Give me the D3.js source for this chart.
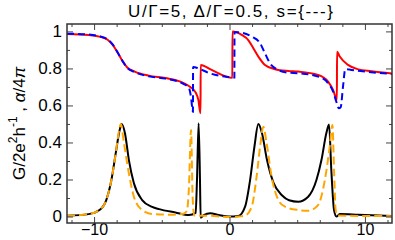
<!DOCTYPE html>
<html>
<head>
<meta charset="utf-8">
<script src="https://cdn.jsdelivr.net/npm/d3@7"></script>
<style>
  body { margin: 0; background: #fff; }
  svg { display: block; font-family: "Liberation Sans", Arial, sans-serif; }
</style>
</head>
<body>
<svg id="chart" width="395" height="240"></svg>
<script>
// alpha/4pi, red solid  [x, value]
const alphaRed = [
  [-12, 0.986], [-10.4, 0.981], [-9.6, 0.972], [-9.0, 0.955], [-8.6, 0.925], [-8.25, 0.885],
  [-7.9, 0.84], [-7.55, 0.805], [-7.0, 0.783], [-5.95, 0.761], [-4.73, 0.748], [-3.5, 0.725],
  [-2.9, 0.70], [-2.5, 0.67], [-2.3, 0.63], [-2.14, 0.558], [-2.13, 0.819], [-1.32, 0.792],
  [0.21, 0.749], [0.22, 0.999], [0.9, 0.981], [1.4, 0.952], [1.76, 0.909], [2.13, 0.864],
  [2.62, 0.819], [3.36, 0.796], [4.34, 0.786], [5.07, 0.783], [6.54, 0.765], [7.28, 0.729],
  [7.65, 0.684], [7.93, 0.63], [7.94, 0.89], [8.14, 0.864], [8.75, 0.819], [9.5, 0.795],
  [10.5, 0.785], [12, 0.773]
]
// alpha/4pi, blue dashed
const alphaBlue = [
  [-12, 0.988], [-10.4, 0.983], [-9.6, 0.974], [-9.0, 0.957], [-8.6, 0.927], [-8.25, 0.885],
  [-7.9, 0.84], [-7.55, 0.803], [-7.0, 0.78], [-5.95, 0.757], [-4.73, 0.745], [-3.5, 0.72],
  [-3.0, 0.695], [-2.85, 0.65], [-2.7, 0.566], [-2.69, 0.808], [-2.28, 0.80], [-1.54, 0.776],
  [-0.07, 0.754], [0.36, 0.751], [0.37, 0.996], [0.66, 0.995], [1.64, 0.972], [2.26, 0.936],
  [2.62, 0.882], [2.99, 0.828], [3.48, 0.796], [4.34, 0.777], [5.07, 0.774], [6.54, 0.756],
  [7.28, 0.72], [7.65, 0.675], [7.89, 0.62], [8.07, 0.585], [8.21, 0.59], [8.38, 0.70],
  [8.55, 0.796], [8.99, 0.792], [10, 0.783], [12, 0.77]
]
// G/2e^2h^-1, black solid
const condBlack = [
  [-12, 0.004], [-10.4, 0.013], [-9.6, 0.035], [-9.1, 0.089], [-8.72, 0.197], [-8.4, 0.342],
  [-8.11, 0.468], [-7.96, 0.5], [-7.72, 0.45], [-7.43, 0.305], [-7.06, 0.18], [-6.45, 0.089],
  [-5.71, 0.052], [-5.2, 0.04], [-4.0, 0.022], [-3.0, 0.008], [-2.5, 0.02], [-2.4, 0.2],
  [-2.28, 0.504], [-2.18, 0.2], [-2.13, -0.006], [-1.9, 0.008], [-1.42, 0.017], [-0.8, 0.008],
  [-0.07, 0.0], [0.66, 0.003], [1.15, 0.053], [1.52, 0.197], [1.84, 0.377], [2.13, 0.5],
  [2.4, 0.45], [2.77, 0.305], [3.26, 0.18], [3.87, 0.115], [4.4, 0.088], [5.07, 0.08],
  [5.81, 0.107], [6.42, 0.197], [6.79, 0.305], [7.15, 0.45], [7.35, 0.497], [7.52, 0.25],
  [7.72, 0.035], [7.9, 0.0], [8.14, 0.013], [9.5, 0.01], [12, 0.003]
]
// G/2e^2h^-1, orange dashed
const condOrange = [
  [-12, 0.004], [-10.4, 0.013], [-9.6, 0.035], [-9.1, 0.089], [-8.72, 0.197], [-8.4, 0.342],
  [-8.15, 0.468], [-8.03, 0.5], [-7.8, 0.4], [-7.43, 0.233], [-7.06, 0.107], [-6.45, 0.035],
  [-5.7, 0.013], [-4.2, 0.01], [-3.4, 0.015], [-3.15, 0.03], [-3.0, 0.15], [-2.84, 0.468],
  [-2.72, 0.1], [-2.6, 0.005], [-1.5, 0.004], [0.0, -0.003], [0.7, 0.0], [1.15, 0.005],
  [1.64, 0.053], [2.0, 0.215], [2.26, 0.377], [2.5, 0.485], [2.74, 0.396], [3.11, 0.215],
  [3.6, 0.09], [4.1, 0.053], [5.07, 0.035], [5.81, 0.031], [6.54, 0.062], [7.04, 0.197],
  [7.4, 0.377], [7.6, 0.495], [7.72, 0.25], [7.84, 0.035], [8.0, 0.005], [12, 0.002]
]

const xMajor = [-10, 0, 10]
const xMinorTicks = d3.range(-7, 8).map(k => k * 5 / 3)
const yMajor = [0, 0.2, 0.4, 0.6, 0.8, 1]
const yMinorTicks = [0.1, 0.3, 0.5, 0.7, 0.9]
const titleText = "U/\u0393=5, \u0394/\u0393=0.5, s={---}"

const dims = { width: 395, height: 240, left: 67, right: 392, top: 24, bottom: 223 }

const svg = d3.select("#chart")

const x = d3.scaleLinear().domain([-12, 12]).range([dims.left, dims.right])
const y = d3.scaleLinear().domain([-0.035, 1.04]).range([dims.bottom, dims.top])

svg.append("clipPath").attr("id", "clip")
  .append("rect")
    .attr("x", dims.left).attr("y", dims.top)
    .attr("width", dims.right - dims.left).attr("height", dims.bottom - dims.top)

const line = d3.line()
  .x(d => x(d[0]))
  .y(d => y(d[1]))
  .curve(d3.curveMonotoneX)

const plot = svg.append("g").attr("clip-path", "url(#clip)")

const series = [
  { data: alphaRed, color: "#ff0000", dash: null },
  { data: alphaBlue, color: "#0000ff", dash: "7,4" },
  { data: condBlack, color: "#000000", dash: null },
  { data: condOrange, color: "#ffa500", dash: "8,4" }
]

plot.selectAll("path")
  .data(series)
  .join("path")
    .attr("d", d => line(d.data))
    .attr("fill", "none")
    .attr("stroke", d => d.color)
    .attr("stroke-width", 2)
    .attr("stroke-dasharray", d => d.dash)

// axes, ticks pointing inward
const tickStyle = g => {
  g.select(".domain").remove()
  g.selectAll(".tick line").attr("stroke", "#444")
  g.selectAll(".tick text").attr("font-size", 17).attr("fill", "#000")
    .attr("font-family", "'Liberation Sans', Arial, sans-serif")
}

const xMinorOnly = xMinorTicks.filter(v => !xMajor.includes(Math.round(v * 1000) / 1000))

svg.append("g").attr("transform", `translate(0,${dims.bottom})`)
  .call(d3.axisBottom(x).tickValues(xMajor).tickSize(-6).tickPadding(1).tickFormat(d => String(d).replace("-", "\u2212")))
  .call(tickStyle)
  .call(g => g.selectAll(".tick text").attr("font-size", 16))
svg.append("g").attr("transform", `translate(0,${dims.bottom})`)
  .call(d3.axisBottom(x).tickValues(xMinorOnly).tickSize(-3).tickFormat(""))
  .call(tickStyle)
svg.append("g").attr("transform", `translate(0,${dims.top})`)
  .call(d3.axisTop(x).tickValues(xMajor).tickSize(-6).tickFormat(""))
  .call(tickStyle)
svg.append("g").attr("transform", `translate(0,${dims.top})`)
  .call(d3.axisTop(x).tickValues(xMinorOnly).tickSize(-3).tickFormat(""))
  .call(tickStyle)

svg.append("g").attr("transform", `translate(${dims.left},0)`)
  .call(d3.axisLeft(y).tickValues(yMajor).tickSize(-6).tickPadding(5).tickFormat(d => d === 0 || d === 1 ? d3.format("d")(d) : d3.format(".1f")(d)))
  .call(tickStyle)
svg.append("g").attr("transform", `translate(${dims.left},0)`)
  .call(d3.axisLeft(y).tickValues(yMinorTicks).tickSize(-3).tickFormat(""))
  .call(tickStyle)
svg.append("g").attr("transform", `translate(${dims.right},0)`)
  .call(d3.axisRight(y).tickValues(yMajor).tickSize(-6).tickFormat(""))
  .call(tickStyle)
svg.append("g").attr("transform", `translate(${dims.right},0)`)
  .call(d3.axisRight(y).tickValues(yMinorTicks).tickSize(-3).tickFormat(""))
  .call(tickStyle)

svg.append("rect")
  .attr("x", dims.left).attr("y", dims.top)
  .attr("width", dims.right - dims.left).attr("height", dims.bottom - dims.top)
  .attr("fill", "none").attr("stroke", "#333").attr("stroke-width", 1.5)

// title
svg.append("text")
  .attr("x", 128).attr("y", 17)
  .attr("font-size", 17)
  .attr("textLength", 205)
  .attr("lengthAdjust", "spacing")
  .text(titleText)

// y label
const ylab = svg.append("text")
  .attr("transform", `translate(25,${(dims.top + dims.bottom) / 2}) rotate(-90)`)
  .attr("text-anchor", "middle")
  .attr("font-size", 17)
ylab.append("tspan").text("G/2e")
ylab.append("tspan").attr("font-size", 12).attr("dy", -8).text("2")
ylab.append("tspan").attr("dy", 8).text("h")
ylab.append("tspan").attr("font-size", 12).attr("dy", -8).text("-1")
ylab.append("tspan").attr("dy", 8).text(" , ")
ylab.append("tspan").attr("font-style", "italic").text("\u03b1")
ylab.append("tspan").text("/4")
ylab.append("tspan").attr("font-style", "italic").text("\u03c0")
</script>
</body>
</html>
